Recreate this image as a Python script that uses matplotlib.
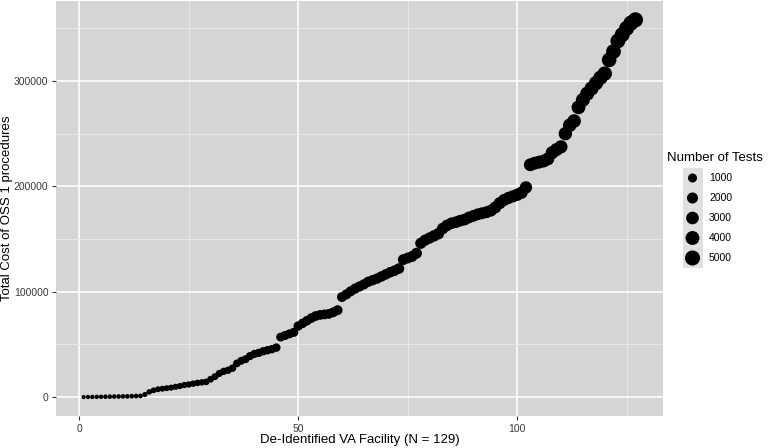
import matplotlib.pyplot as plt
import numpy as np

# values (facilities sorted by total cost)
facility = list(range(1, 128))
total_cost = [
    70, 140, 210, 280, 350, 420, 490, 560, 630, 700, 770, 910, 1050, 1190,
    2500, 5000, 6500, 7500, 8000, 8500, 9000, 9800, 10500, 11500, 12000,
    12800, 13500, 14000, 14500, 17000, 19500, 22500, 24500, 25500, 27500,
    32000, 34500, 36000, 39000, 41000, 42000, 43500, 44500, 45500, 47000,
    57000, 58500, 60000, 61500, 67500, 70000, 72500, 75000, 77000, 78000,
    78500, 79000, 80500, 82500, 95000, 97500, 100500, 103000, 105000, 107000,
    109500, 111000, 112500, 114500, 116500, 118500, 120000, 122000, 130500,
    132000, 133500, 136500, 146000, 149000, 151000, 153000, 155000, 160000,
    163000, 165000, 166000, 167500, 168500, 170500, 172000, 173500, 174500,
    175500, 177000, 180000, 184000, 187000, 189000, 190500, 192000, 194000,
    199000, 220500, 222000, 223000, 224000, 226000, 232000, 235000, 237500,
    250000, 258000, 262000, 275000, 282000, 288000, 293000, 298000, 303000,
    307000, 320000, 328000, 338000, 344000, 350000, 355000, 358000,
]
n_tests = [
    1, 2, 3, 4, 5, 6, 7, 8, 9, 10, 11, 13, 15, 17,
    40, 80, 105, 120, 130, 140, 150, 160, 175, 190, 200,
    215, 225, 235, 245, 285, 330, 380, 410, 430, 460,
    540, 580, 600, 650, 690, 700, 730, 745, 760, 790,
    950, 980, 1000, 1030, 1130, 1170, 1210, 1250, 1290, 1300,
    1310, 1320, 1340, 1380, 1420, 1450, 1480, 1510, 1530, 1560,
    1590, 1610, 1630, 1660, 1690, 1720, 1740, 1770, 1880,
    1900, 1920, 1960, 2090, 2130, 2160, 2190, 2220, 2290,
    2330, 2360, 2370, 2390, 2410, 2440, 2460, 2480, 2490,
    2510, 2530, 2570, 2630, 2670, 2700, 2720, 2740, 2770,
    2840, 3150, 3170, 3190, 3200, 3230, 3310, 3360, 3390,
    3570, 3690, 3740, 3930, 4030, 4110, 4190, 4260, 4330,
    4390, 4570, 4690, 4830, 4910, 5000, 5070, 5110,
]
legend_tests = [1000, 2000, 3000, 4000, 5000]

DPI = 100
plt.rcParams['font.family'] = ['Liberation Sans', 'DejaVu Sans']

tmin, tmax = min(n_tests), max(n_tests)


def marker_area(t):
    # ggplot-like area scale: diameter grows with sqrt of the rescaled value
    t = np.asarray(t, dtype=float)
    d_px = 4.2 + 11.0 * np.sqrt((t - tmin) / (tmax - tmin))
    return (d_px * 72 / DPI) ** 2


fig = plt.figure(figsize=(7.77, 4.48), dpi=DPI)
ax = fig.add_axes([56 / 777, 1 - 416 / 448, (663 - 56) / 777, 415 / 448])
ax.set_facecolor('#D5D5D5')

ax.scatter(facility, total_cost, s=marker_area(n_tests), color='black',
           linewidths=0, zorder=3)

ax.set_xlim(-5.3, 133.3)
ax.set_ylim(-17900, 375900)
ax.set_xticks([0, 50, 100])
ax.set_xticks([25, 75, 125], minor=True)
ax.set_yticks([0, 100000, 200000, 300000])
ax.set_yticklabels(['0', '100000', '200000', '300000'])
ax.set_yticks([50000, 150000, 250000, 350000], minor=True)
ax.grid(which='major', color='white', linewidth=1.1, zorder=0)
ax.grid(which='minor', color='#EAEAEA', linewidth=0.6, zorder=0)
ax.set_axisbelow(True)
for s in ax.spines.values():
    s.set_visible(False)
ax.tick_params(which='major', length=3, width=0.8, color='#333333',
               labelsize=7.5, labelcolor='#3A3A3A', pad=2.5)
ax.tick_params(which='minor', length=0)

# axis titles placed in figure pixels
fig.text(360 / 777, 1 - 440 / 448, 'De-Identified VA Facility (N = 129)',
         fontsize=9.5, ha='center', va='center')
fig.text(7.5 / 777, 1 - 208 / 448, 'Total Cost of OSS 1 procedures',
         fontsize=9.5, ha='center', va='center', rotation=90)

# legend drawn in pixel coordinates
lax = fig.add_axes([0, 0, 1, 1], facecolor='none')
lax.set_xlim(0, 777)
lax.set_ylim(448, 0)
lax.axis('off')
lax.text(667, 158, 'Number of Tests', fontsize=9.5, va='center', ha='left')
key_y = [178, 198, 218, 238, 258]
for ky in key_y:
    lax.add_patch(plt.Rectangle((683, ky - 10), 19.5, 20, facecolor='#E0E0E0',
                                edgecolor='none'))
lax.scatter([692.5] * len(legend_tests), key_y, s=marker_area(legend_tests),
            color='black', linewidths=0)
for ky, lab in zip(key_y, legend_tests):
    lax.text(709, ky, str(lab), fontsize=7.5, va='center', ha='left')

plt.savefig('out.png', dpi=DPI)
